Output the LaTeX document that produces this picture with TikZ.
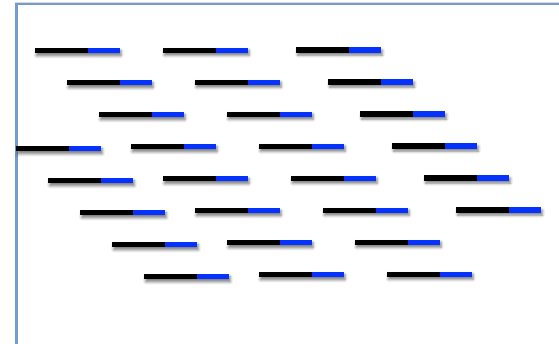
\documentclass[tikz,border=0pt]{standalone}
\usepackage{tikz}
\usetikzlibrary{shadows.blur}
\definecolor{segblue}{RGB}{5,50,255}
\definecolor{frameblue}{RGB}{115,155,205}

\begin{document}
\begin{tikzpicture}[
  x=1pt, y=-1pt,
  frameline/.style={draw=frameblue, line width=2.2pt},
  barshadow/.style={blur shadow={shadow xshift=1.2pt, shadow yshift=-2.6pt,
                    shadow blur radius=2.6pt, shadow opacity=50}},
  pics/twotone/.style={code={
    \path[barshadow] (0,-2.6) rectangle (85,2.6);
    \fill[black] (0,-2.6) rectangle (53,2.6);
    \fill[segblue] (53,-2.6) rectangle (85,2.6);
  }},
]
\useasboundingbox (0,0) rectangle (559,343);
% frame, only its top and left sides fall inside the picture
\coordinate (corner) at (16.5,3.8);
\draw[black!15, line width=1pt] (15,345) -- (15,2.4) -- (561,2.4);
\draw[frameline] (16.5,345) -- (corner) -- (561,3.8);
% four diagonal runs of bars
\foreach \k in {0,...,7} \pic at ({35+32*\k},{50.7+32*\k}) {twotone};
\foreach \k in {0,...,7} \pic at ({163+32*\k},{50.3+32*\k}) {twotone};
\foreach \k in {0,...,5} \pic at ({296.3+32*\k},{50+32*\k}) {twotone};
\foreach \k in {0,...,4} \pic at ({16.3+32*\k},{148.7+32*\k}) {twotone};
\end{tikzpicture}
\end{document}
